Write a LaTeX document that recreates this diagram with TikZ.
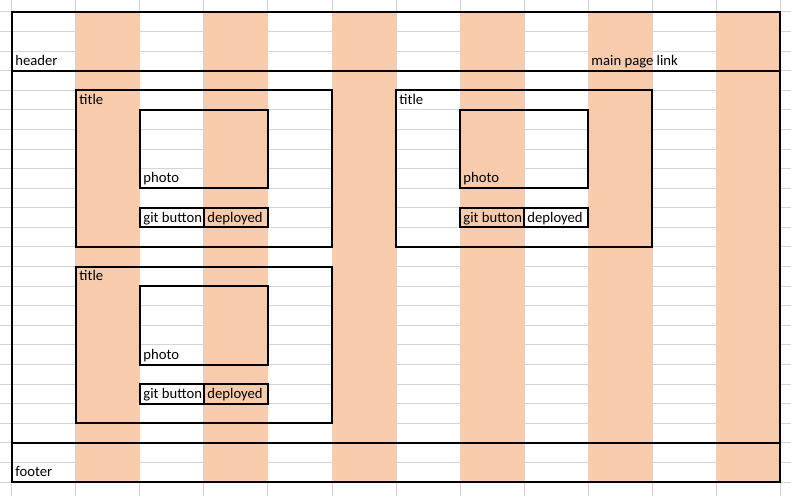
\documentclass[tikz,border=0pt]{standalone}
\usepackage{fontspec}
\setmainfont{Carlito}
\definecolor{sheetgrid}{RGB}{212,212,212}
\definecolor{accent}{RGB}{248,203,173}
\tikzset{
  gridline/.style={draw=sheetgrid, line width=0.75pt},
  box/.style={draw=black, line width=1.5pt},
  celltext/.style={anchor=base west, inner sep=0pt, xshift=2.4pt, yshift=4pt,
    font=\fontsize{11pt}{13pt}\selectfont}
}

\begin{document}
\begin{tikzpicture}[x=48pt, y=-14.6875pt]
  \useasboundingbox (-0.1875,-0.6128) rectangle (12.1719,24.7149);
  % Draw the sheet grid
  \foreach \r in {0,...,25} \draw[gridline] (-1,\r) -- (13,\r);
  \foreach \c in {0,...,12} \draw[gridline] (\c,-1) -- (\c,26);
  % Shaded columns
  \fill[accent] (1,0) rectangle (2,24);
  \fill[accent] (3,0) rectangle (4,24);
  \fill[accent] (5,0) rectangle (6,24);
  \fill[accent] (7,0) rectangle (8,24);
  \fill[accent] (9,0) rectangle (10,24);
  \fill[accent] (11,0) rectangle (12,24);
  % Page frame, header and footer
  \draw[box] (0,0) rectangle (12,24);
  \draw[box] (0,3) -- (12,3);
  \draw[box] (0,22) -- (12,22);
  \node[celltext] (header) at (0,3) {header};
  \node[celltext] (mainlink) at (9,3) {main page link};
  \node[celltext] (footer) at (0,24) {footer};
  % First card
  \draw[box] (1,4) rectangle (5,12);
  \draw[box] (2,5) rectangle (4,9);
  \draw[box] (2,10) rectangle (3,11);
  \draw[box] (3,10) rectangle (4,11);
  \node[celltext] (title1) at (1,5) {title};
  \node[celltext] (photo1) at (2,9) {photo};
  \node[celltext] (git1) at (2,11) {git button};
  \node[celltext] (deployed1) at (3,11) {deployed};
  % Second card
  \draw[box] (6,4) rectangle (10,12);
  \draw[box] (7,5) rectangle (9,9);
  \draw[box] (7,10) rectangle (8,11);
  \draw[box] (8,10) rectangle (9,11);
  \node[celltext] (title2) at (6,5) {title};
  \node[celltext] (photo2) at (7,9) {photo};
  \node[celltext] (git2) at (7,11) {git button};
  \node[celltext] (deployed2) at (8,11) {deployed};
  % Third card
  \draw[box] (1,13) rectangle (5,21);
  \draw[box] (2,14) rectangle (4,18);
  \draw[box] (2,19) rectangle (3,20);
  \draw[box] (3,19) rectangle (4,20);
  \node[celltext] (title3) at (1,14) {title};
  \node[celltext] (photo3) at (2,18) {photo};
  \node[celltext] (git3) at (2,20) {git button};
  \node[celltext] (deployed3) at (3,20) {deployed};
\end{tikzpicture}
\end{document}
